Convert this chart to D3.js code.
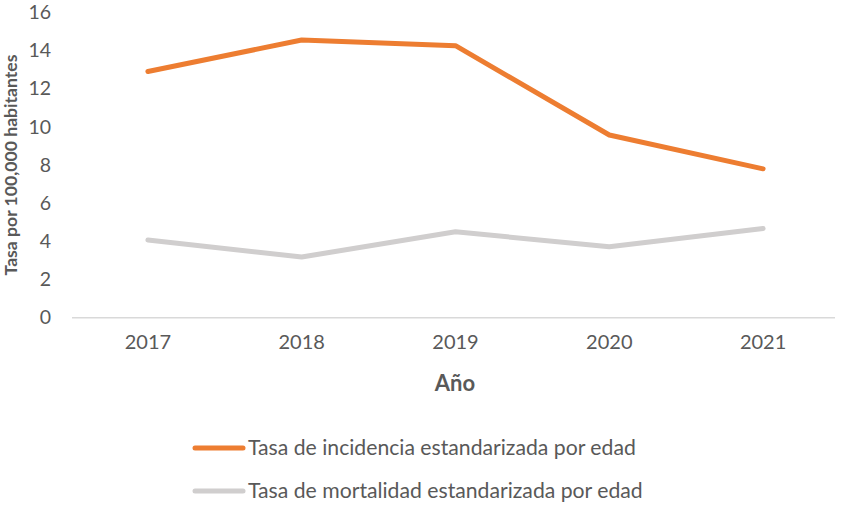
<!DOCTYPE html>
<html><head><meta charset="utf-8">
<script src="https://cdn.jsdelivr.net/npm/d3@7"></script>
<style>body{margin:0;background:#fff}svg{display:block;font-family:Lato,"Open Sans",sans-serif}</style>
</head><body>
<svg id="c" width="843" height="510"></svg>
<script>
const years = ["2017","2018","2019","2020","2021"];
const incidencia = [12.9, 14.55, 14.25, 9.57, 7.8];
const mortalidad = [4.07, 3.18, 4.5, 3.72, 4.67];
const yTicks = [0,2,4,6,8,10,12,14,16];
const seriesNames = ["Tasa de incidencia estandarizada por edad","Tasa de mortalidad estandarizada por edad"];
const seriesColors = ["#ED7D31","#D0CECE"];

const svg = d3.select("#c");
const x = d3.scaleBand().domain(years).range([71, 840]);
const y = d3.scaleLinear().domain([0,16]).range([317.7, 12.3]);
const txt = "#595959";
const F = "Lato";

// baseline
svg.append("line").attr("x1",72).attr("x2",835).attr("y1",y(0)).attr("y2",y(0))
  .attr("stroke","#D9D9D9").attr("stroke-width",1.5);

// y axis labels
const yAx = svg.append("g").attr("transform","translate(51,0)")
  .call(d3.axisLeft(y).tickValues(yTicks).tickSize(0).tickPadding(0));
yAx.select(".domain").remove();
yAx.selectAll("text").attr("font-size","19.5px").attr("fill",txt).attr("font-family",F).attr("text-anchor","end");

// x axis labels
const xAx = svg.append("g").attr("transform","translate(0,335)")
  .call(d3.axisBottom(x).tickSize(0).tickPadding(0));
xAx.select(".domain").remove();
xAx.selectAll("text").attr("font-size","20px").attr("fill",txt).attr("font-family",F);

// axis titles
svg.append("text").attr("x",455).attr("y",391).attr("text-anchor","middle")
  .attr("font-size","22px").attr("font-weight","bold").attr("fill",txt).text("Año");
svg.append("text").attr("transform","translate(17,165) rotate(-90)").attr("text-anchor","middle")
  .attr("font-size","17.6px").attr("font-weight","bold").attr("fill",txt).text("Tasa por 100,000 habitantes");

// lines
const line = d3.line().x((d,i)=>x(years[i])+x.bandwidth()/2).y(d=>y(d));
[incidencia, mortalidad].forEach((s,k)=>{
  svg.append("path").attr("d",line(s)).attr("fill","none").attr("stroke",seriesColors[k])
    .attr("stroke-width",5).attr("stroke-linecap","round").attr("stroke-linejoin","round");
});

// legend
const lg = svg.append("g");
[448, 491].forEach((ly,k)=>{
  lg.append("line").attr("x1",195).attr("x2",243).attr("y1",ly).attr("y2",ly)
    .attr("stroke",seriesColors[k]).attr("stroke-width",5).attr("stroke-linecap","round");
  lg.append("text").attr("x",248).attr("y",ly).attr("dy","0.35em").attr("font-size","21.2px")
    .attr("fill",txt).text(seriesNames[k]);
});
</script>
</body></html>
